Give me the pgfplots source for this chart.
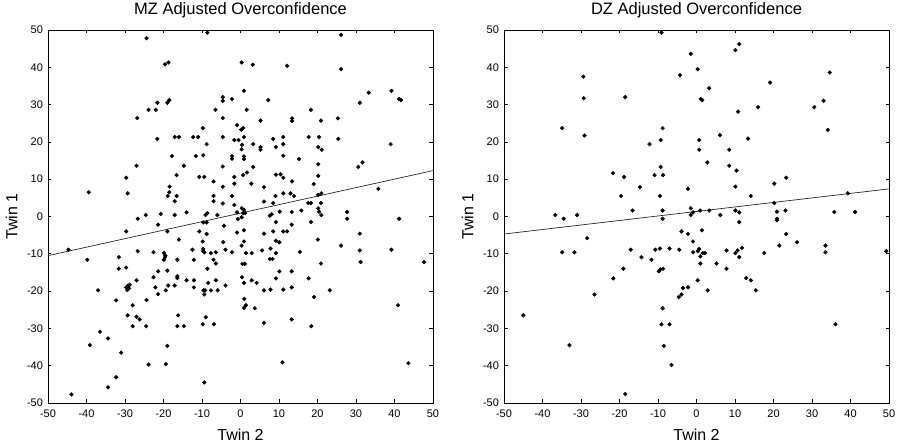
\documentclass[border=0pt]{standalone}
\usepackage{fontspec}
\setmainfont{Liberation Sans}
\usepackage{pgfplots}
\pgfplotsset{compat=1.18}
\pgfplotstableread{
x y
-24.4 47.8
-19.6 40.8
-18.7 41.3
-8.6 49.3
-22.0 28.6
-23.9 28.6
-21.6 30.5
-19.0 30.5
-18.5 31.2
-26.8 26.4
-21.6 20.8
-17.1 21.3
-16.0 21.3
-17.8 16.2
-14.7 13.6
-27.0 13.6
-29.7 10.4
-29.3 6.2
-39.4 6.5
-18.4 8.0
-18.5 6.5
-18.9 5.5
-16.6 5.5
-17.1 4.1
-16.6 11.1
-24.6 0.4
-20.7 0.7
-17.1 0.4
-14.0 1.1
-26.7 -0.6
-12.3 21.3
-11.0 21.3
-11.6 16.2
-9.7 16.4
-9.8 23.7
-8.8 19.4
-10.7 10.6
-9.4 10.6
-7.0 9.4
-7.0 5.5
-7.0 4.1
-6.5 28.6
-4.6 32.0
-4.6 31.0
-2.2 31.5
-4.6 26.4
-0.9 24.5
-4.6 21.3
-1.6 20.5
-0.5 20.5
-2.2 16.2
-2.2 15.5
-4.6 13.4
-1.6 10.6
-4.6 8.0
-1.6 8.8
-2.2 5.5
-1.6 3.1
-4.6 3.5
-9.1 0.4
-8.6 0.9
-6.0 0.4
-0.9 1.1
26.1 48.7
26.1 39.5
0.3 41.3
3.2 40.7
12.1 40.4
0.9 33.7
7.2 31.2
1.6 28.6
18.3 28.6
13.4 26.3
13.4 25.6
5.2 25.7
20.9 25.7
25.3 26.3
31.0 30.5
33.3 33.2
39.2 33.7
41.2 31.5
41.7 31.2
0.2 23.3
0.7 23.7
0.9 21.3
8.5 20.8
11.1 21.3
17.7 21.3
20.4 21.3
25.4 20.8
3.3 19.4
0.4 19.2
11.1 19.4
9.2 18.6
5.2 18.6
5.2 17.9
0.3 18.0
20.2 18.6
21.1 17.9
0.9 16.1
0.9 15.4
11.1 16.3
15.2 15.4
20.2 14.0
3.3 13.3
0.7 11.1
1.7 11.8
9.2 11.2
10.4 11.3
11.1 10.4
20.2 10.9
30.6 13.3
31.7 14.5
39.0 19.4
35.8 7.4
2.8 8.8
6.1 7.9
13.4 9.4
19.0 8.7
11.1 6.2
13.0 6.2
13.9 5.5
9.1 5.5
6.1 4.0
8.5 3.6
17.6 3.6
18.3 3.6
20.9 3.6
20.2 5.8
21.0 6.2
20.2 2.2
20.4 1.3
21.0 0.4
15.8 1.6
13.3 1.2
10.2 1.3
8.1 0.6
7.6 0.2
27.7 1.2
27.7 -0.6
0.35 2.2
0.9 1.8
0.7 0.9
1.2 0.9
0.3 -0.2
41.2 -0.6
0.9 -3.7
6.1 -4.6
8.5 -4.0
11.1 -4.0
12.1 -4.0
13.3 -2.2
18.3 -1.5
9.2 -1.5
0.3 -7.8
0.9 -6.7
9.2 -6.5
10.1 -6.9
1.4 -9.8
2.9 -9.8
5.6 -9.1
7.8 -8.6
9.2 -9.8
15.4 -9.5
20.1 -6.2
26.1 -7.8
31.0 -4.6
31.0 -9.1
31.2 -12.2
39.2 -8.9
47.7 -12.2
0.5 -12.7
1.1 -12.7
7.6 -11.4
8.3 -11.4
10.1 -14.7
9.2 -16.6
13.3 -14.7
20.9 -12.6
17.7 -16.6
0.4 -16.3
0.9 -17.8
2.9 -17.1
4.2 -17.8
6.1 -19.8
7.8 -19.6
11.1 -19.6
13.3 -19.0
23.2 -19.8
1.0 -22.1
0.9 -24.5
1.4 -23.8
3.7 -24.6
19.1 -21.6
40.9 -23.8
6.1 -28.5
13.3 -27.6
18.4 -29.4
10.9 -39.1
43.6 -39.3
-44.7 -8.9
-39.8 -11.6
-37.0 -19.8
-36.5 -30.9
-39.1 -34.5
-34.4 -32.7
-31.0 -36.5
-32.3 -43.1
-34.4 -45.8
-43.9 -47.7
-31.6 -10.9
-31.6 -14.0
-29.7 -13.7
-29.7 -4.0
-26.7 -9.3
-27.0 -17.1
-32.3 -22.5
-29.7 -19.0
-29.3 -18.6
-29.0 -19.3
-28.8 -18.3
-29.4 -19.7
-28.0 -23.8
-29.3 -26.5
-27.0 -26.9
-26.2 -27.6
-28.0 -29.4
-24.5 -29.4
-24.4 -22.4
-22.6 -9.6
-22.6 -16.3
-22.1 -19.0
-21.4 -14.7
-21.4 -20.8
-21.4 -2.2
-23.9 -39.7
-19.4 -39.6
-19.0 -34.7
-19.9 -9.8
-19.5 -10.5
-19.9 -11.6
-19.6 -10.9
-19.0 -4.0
-19.0 -14.5
-18.8 -18.5
-19.4 -19.8
-17.1 -18.5
-16.4 -11.6
-16.4 -16.0
-16.4 -16.5
-16.0 -6.2
-16.2 -26.5
-16.4 -29.4
-14.7 -29.4
-14.0 -17.1
-12.5 -8.9
-12.1 -11.6
-12.1 -17.1
-12.1 -19.0
-10.7 -4.0
-9.8 -6.7
-9.7 -8.7
-9.7 -9.3
-9.4 -9.6
-9.6 -19.8
-9.2 -19.8
-9.4 -20.9
-9.8 -28.9
-9.0 -27.0
-9.4 -44.5
-8.8 -4.7
-8.8 -1.6
-9.7 -1.6
-8.6 -14.0
-8.4 -17.8
-7.7 -9.8
-7.7 -19.8
-7.0 -11.6
-6.4 -12.6
-6.4 -9.6
-6.4 -17.1
-6.9 -28.9
-5.9 -19.8
-4.5 -6.9
-4.3 -2.5
-3.9 -8.9
-3.9 -18.5
-2.2 -9.6
-0.9 -4.3
-0.7 -0.7
}\mzdata
\pgfplotstableread{
x y
-9.1 49.3
-1.5 43.6
-4.3 37.9
-29.4 37.5
-29.3 31.7
-18.5 32.0
-34.9 23.7
-29.1 21.7
-8.8 23.7
-9.3 20.5
-12.2 19.4
-21.7 11.6
-18.8 10.6
-10.9 11.1
-8.7 11.1
-9.3 13.3
-14.7 7.9
-19.6 5.5
-9.5 5.5
-2.2 7.4
-16.6 1.6
-8.8 1.6
-1.5 2.2
-1.5 0.4
-0.9 1.1
-36.7 0.4
-31.0 0.4
-34.5 -0.6
-8.8 -0.6
11.1 46.2
10.1 44.6
0.3 39.5
34.6 38.6
19.1 35.9
3.3 34.4
1.1 31.5
1.5 31.2
10.8 28.1
16.0 29.3
30.6 29.3
33.0 31.0
34.1 23.2
6.1 21.8
13.4 20.9
0.7 20.5
0.7 17.9
8.5 17.9
2.8 14.5
8.5 13.6
10.4 12.3
10.1 8.0
14.1 5.5
20.2 8.8
23.3 10.4
39.3 6.2
20.2 3.6
0.95 1.6
3.3 1.6
6.2 0.4
10.1 1.6
11.1 1.1
20.9 1.3
23.1 1.6
35.8 1.2
41.2 1.2
20.9 -0.6
-45.0 -26.5
-34.9 -9.6
-31.7 -9.6
-28.4 -5.8
-26.5 -20.9
-33.0 -34.5
-21.6 -16.6
-19.0 -14.0
-18.5 -47.6
-17.1 -8.9
-14.3 -10.9
-11.7 -11.6
-10.7 -8.9
-9.5 -8.6
-9.8 -14.7
-9.4 -14.2
-8.7 -14.0
-8.8 -24.6
-9.1 -28.9
-8.5 -34.7
-7.0 -8.6
-7.0 -28.9
-6.5 -39.8
-4.5 -8.9
-3.9 -4.0
-2.2 -4.7
-0.9 -6.7
-0.9 -9.6
-4.6 -21.6
-3.9 -20.9
-3.5 -19.2
-2.2 -19.0
1.4 -3.7
0.3 -9.3
0.7 -8.7
1.0 -10.7
1.6 -9.8
2.2 -9.8
1.0 -12.6
0.3 -17.1
2.9 -19.8
5.2 -12.6
7.8 -9.1
7.8 -14.0
10.1 -9.8
10.7 -9.1
11.1 -10.9
11.8 -8.4
11.1 -1.5
12.9 -16.5
14.1 -17.1
15.4 -19.8
17.6 -9.8
21.5 -7.8
23.3 -4.7
20.9 -1.0
26.1 -6.9
33.5 -7.8
33.5 -9.6
36.1 -28.9
49.3 -9.3
}\dzdata
\pgfplotsset{
  twinstyle/.style={
    scale only axis, width=385pt, height=373pt,
    xmin=-50, xmax=50, ymin=-50, ymax=50,
    xtick={-50,-40,...,50}, ytick={-50,-40,...,50},
    xticklabels={-50,-40,-30,-20,-10,0,10,20,30,40,50},
    yticklabels={-50,-40,-30,-20,-10,0,10,20,30,40,50},
    tick align=inside, major tick length=3.5pt,
    axis line style={line width=0.8pt},
    every tick/.style={line width=0.6pt, black},
    ticklabel style={font=\fontsize{11}{13}\selectfont},
    xticklabel style={anchor=base, yshift=-15pt},
    yticklabel style={anchor=east, xshift=-1.5pt},
    title style={font=\fontsize{16.5}{19}\selectfont, at={(axis description cs:0.5,1)}, anchor=base, yshift=9pt},
    label style={font=\fontsize{16}{19}\selectfont},
    xlabel style={at={(axis description cs:0.5,0)}, anchor=base, yshift=-38pt},
    ylabel style={at={(axis description cs:0,0.5)}, anchor=base, yshift=30.7pt},
    xlabel={Twin 2}, ylabel={Twin 1},
    clip=true,
  },
  dots/.style={only marks, mark=*, mark size=1.9pt, mark options={black, fill=black}},
}
\begin{document}
\begin{tikzpicture}
\path[use as bounding box] (-48pt,-41pt) rectangle (849pt,403pt);
\begin{axis}[twinstyle, at={(0pt,0pt)}, anchor=south west, title={MZ Adjusted Overconfidence}]
\addplot[dots] table[x=x,y=y] {\mzdata};
\addplot[black!85, line width=0.7pt, no marks] coordinates {(-50,-10.5) (50,12.3)};
\end{axis}
\begin{axis}[twinstyle, at={(456pt,0pt)}, anchor=south west, title={DZ Adjusted Overconfidence}]
\addplot[dots] table[x=x,y=y] {\dzdata};
\addplot[black!85, line width=0.7pt, no marks] coordinates {(-50,-4.7) (50,7.4)};
\end{axis}
\end{tikzpicture}
\end{document}
